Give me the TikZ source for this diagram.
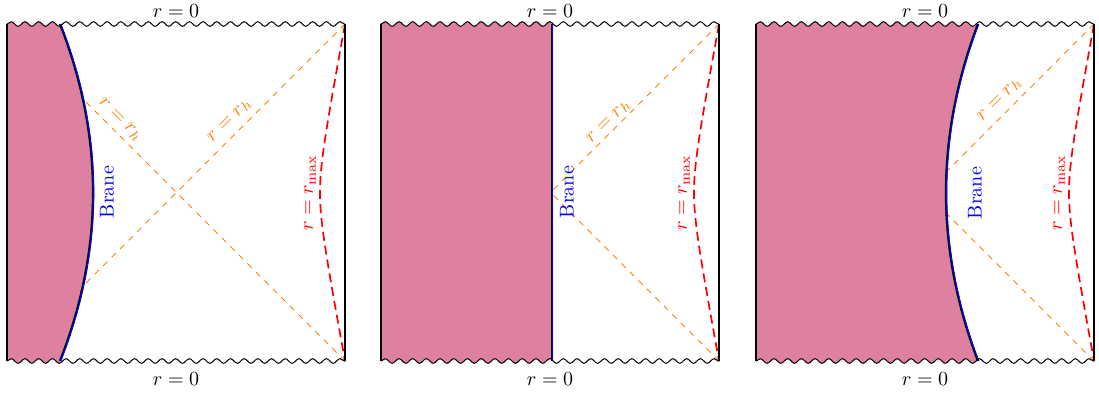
\documentclass[tikz,border=0pt]{standalone}
\usetikzlibrary{decorations.pathmorphing}
\definecolor{branefill}{RGB}{222,128,160}
\tikzset{
  snakedeco/.style={decoration={snake, segment length=6.85pt, amplitude=1.15pt}},
  wavy/.style={snakedeco, decorate, line width=0.5pt, black},
  wall/.style={line width=0.75pt, black},
  horizon/.style={orange, dashed, line width=0.45pt},
  rmax/.style={red, line width=0.85pt, dash pattern=on 4.5pt off 2.5pt},
  braneedge/.style={black, line width=1.1pt},
  braneline/.style={blue, line width=0.6pt, xshift=0.35pt},
  lbl/.style={inner sep=0pt},
  brlbl/.style={lbl, blue, rotate=90},
  hlbl/.style={lbl, orange},
  rlbl/.style={lbl, red, rotate=90},
}
% clip region between the two wavy singularities of a panel (local coords)
\newcommand\pclip{%
  \clip[snakedeco] decorate{(7,24) -- (345,24)} -- (345,400) -- (7,400) -- cycle;
  \clip[snakedeco] decorate{(7,361) -- (345,361)} -- (345,-10) -- (7,-10) -- cycle;
}
% walls, singularities and r_max curve of a panel (local coords)
\newcommand\pframe{%
  \draw[rmax] plot[domain=-16.85:16.85, samples=60, smooth] ({320+1.88*(sqrt(16+\x*\x)-4)}, {192.5+10*\x});
  \draw[wall] (7,24) -- (7,361);
  \draw[wall] (345,24) -- (345,361);
  \draw[wavy] (7,24) -- (345,24);
  \draw[wavy] (7,361) -- (345,361);
}
\begin{document}
\begin{tikzpicture}[x=0.5pt,y=-0.5pt]
\useasboundingbox (0,0) rectangle (1099,392);

% ---------------- Panel 1 ----------------
\begin{scope}
  \draw[horizon] (345,24) -- (8,361);
  \draw[horizon] (345,361) -- (8,24);
  \begin{scope}
    \pclip
    \fill[branefill] (7,-10) -- (60,-10) -- (60,24) .. controls (104,136.3) and (104,248.7) .. (60,361) -- (60,400) -- (7,400) -- cycle;
  \end{scope}
  \draw[braneedge] (60,24) .. controls (104,136.3) and (104,248.7) .. (60,361);
  \draw[braneline] (60,24) .. controls (104,136.3) and (104,248.7) .. (60,361);
  \pframe
  \node[lbl] (top1) at (176,11) {$r=0$};
  \node[lbl] (bot1) at (176,379) {$r=0$};
  \node[hlbl, rotate=-45] (hA1) at (120,120) {$r=r_h$};
  \node[hlbl, rotate=45] (hB1) at (230,121) {$r=r_h$};
  \node[brlbl] (br1) at (107,192) {Brane};
  \node[rlbl] (rm1) at (310,193) {$r=r_{\max}$};
\end{scope}

% ---------------- Panel 2 ----------------
\begin{scope}[shift={(374,0)}]
  \draw[horizon] (345,24) -- (8,361);
  \draw[horizon] (345,361) -- (8,24);
  \begin{scope}
    \pclip
    \fill[branefill] (7,-10) rectangle (178,400);
  \end{scope}
  \draw[braneedge] (178,24) -- (178,361);
  \draw[braneline] (178,24) -- (178,361);
  \pframe
  \node[lbl] (top2) at (176,11) {$r=0$};
  \node[lbl] (bot2) at (176,379) {$r=0$};
  \node[hlbl, rotate=45] (hB2) at (235,122) {$r=r_h$};
  \node[brlbl] (br2) at (193,192) {Brane};
  \node[rlbl] (rm2) at (310,193) {$r=r_{\max}$};
\end{scope}

% ---------------- Panel 3 ----------------
\begin{scope}[shift={(749,0)}]
  \draw[horizon] (345,24) -- (8,361);
  \draw[horizon] (345,361) -- (8,24);
  \begin{scope}
    \pclip
    \fill[branefill] (7,-10) -- (229,-10) -- (229,24) .. controls (186.3,136.3) and (186.3,248.7) .. (229,361) -- (229,400) -- (7,400) -- cycle;
  \end{scope}
  \draw[braneedge] (229,24) .. controls (186.3,136.3) and (186.3,248.7) .. (229,361);
  \draw[braneline] (229,24) .. controls (186.3,136.3) and (186.3,248.7) .. (229,361);
  \pframe
  \node[lbl] (top3) at (176,11) {$r=0$};
  \node[lbl] (bot3) at (176,379) {$r=0$};
  \node[hlbl, rotate=45] (hB3) at (251,100) {$r=r_h$};
  \node[brlbl] (br3) at (226,193) {Brane};
  \node[rlbl] (rm3) at (310,193) {$r=r_{\max}$};
\end{scope}
\end{tikzpicture}
\end{document}
